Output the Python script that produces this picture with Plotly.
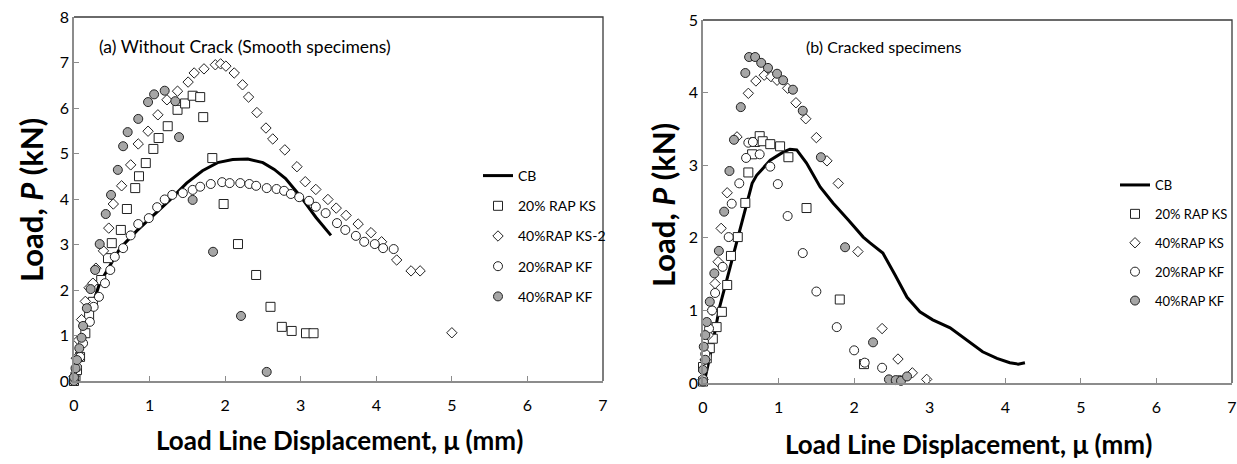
import plotly.graph_objects as go

# ---------------- (a) Without crack ----------------
a_cb_x = [0, 0.05, 0.12, 0.21, 0.34, 0.48, 0.61, 0.83, 1.04, 1.27, 1.49, 1.7, 1.9, 2.1, 2.3, 2.5, 2.65, 2.8, 3.0, 3.2, 3.4]
a_cb_y = [0, 0.4, 1.05, 1.5, 2.15, 2.55, 2.92, 3.3, 3.62, 3.98, 4.35, 4.62, 4.8, 4.87, 4.88, 4.8, 4.65, 4.45, 4.05, 3.6, 3.2]

a_ks20_x = [0.0, 0.02, 0.04, 0.08, 0.15, 0.2, 0.25, 0.36, 0.45, 0.5, 0.62, 0.7, 0.81, 0.86, 0.95, 1.05, 1.12, 1.24, 1.37, 1.47, 1.57, 1.67, 1.71, 1.83, 1.98, 2.17, 2.41, 2.6, 2.75, 2.88, 3.07, 3.17]
a_ks20_y = [0.0, 0.1, 0.24, 0.53, 1.05, 1.45, 1.74, 2.22, 2.7, 3.03, 3.32, 3.78, 4.24, 4.5, 4.79, 5.1, 5.34, 5.6, 5.96, 6.1, 6.27, 6.24, 5.8, 4.9, 3.89, 3.01, 2.33, 1.63, 1.19, 1.1, 1.05, 1.05]

a_ks40_x = [0.0, 0.03, 0.06, 0.1, 0.15, 0.2, 0.25, 0.29, 0.39, 0.46, 0.52, 0.63, 0.75, 0.85, 0.98, 1.11, 1.23, 1.37, 1.51, 1.59, 1.72, 1.87, 1.94, 2.01, 2.12, 2.23, 2.31, 2.42, 2.54, 2.63, 2.79, 2.95, 3.06, 3.2, 3.36, 3.47, 3.6, 3.76, 3.93, 4.07, 4.27, 4.46, 4.58, 5.0]
a_ks40_y = [0.1, 0.5, 0.9, 1.35, 1.75, 2.05, 2.15, 2.48, 2.86, 3.36, 3.89, 4.29, 4.75, 5.21, 5.49, 5.85, 6.18, 6.37, 6.57, 6.77, 6.86, 6.95, 6.97, 6.92, 6.77, 6.51, 6.24, 5.9, 5.56, 5.32, 5.08, 4.71, 4.38, 4.21, 3.99, 3.8, 3.64, 3.45, 3.26, 3.06, 2.66, 2.42, 2.42, 1.06]

a_kf20_x = [0.0, 0.04, 0.08, 0.12, 0.21, 0.26, 0.33, 0.41, 0.48, 0.54, 0.65, 0.75, 0.85, 0.99, 1.1, 1.2, 1.3, 1.44, 1.57, 1.67, 1.81, 1.96, 2.06, 2.2, 2.32, 2.41, 2.55, 2.68, 2.78, 2.87, 2.98, 3.11, 3.2, 3.33, 3.48, 3.59, 3.73, 3.84, 3.98, 4.09, 4.23]
a_kf20_y = [0.0, 0.3, 0.53, 0.83, 1.3, 1.63, 1.85, 2.15, 2.44, 2.73, 2.92, 3.2, 3.45, 3.58, 3.82, 3.99, 4.09, 4.13, 4.2, 4.27, 4.33, 4.37, 4.35, 4.35, 4.33, 4.29, 4.24, 4.22, 4.18, 4.11, 4.04, 3.96, 3.83, 3.69, 3.47, 3.32, 3.19, 3.06, 3.01, 2.92, 2.9]

a_kf40_x = [0.0, 0.0, 0.02, 0.04, 0.07, 0.1, 0.12, 0.17, 0.22, 0.28, 0.34, 0.42, 0.49, 0.58, 0.65, 0.71, 0.85, 0.98, 1.06, 1.2, 1.34, 1.39, 1.57, 1.84, 2.21, 2.55]
a_kf40_y = [0.0, 0.08, 0.28, 0.46, 0.72, 0.95, 1.21, 1.6, 2.02, 2.44, 3.01, 3.67, 4.09, 4.64, 5.16, 5.47, 5.76, 6.13, 6.3, 6.38, 6.15, 5.36, 3.98, 2.84, 1.43, 0.2]

# ---------------- (b) Cracked ----------------
b_cb_x = [0, 0.03, 0.12, 0.22, 0.36, 0.49, 0.58, 0.65, 0.71, 0.89, 1.06, 1.15, 1.24, 1.37, 1.55, 1.72, 1.92, 2.12, 2.21, 2.38, 2.54, 2.7, 2.87, 3.04, 3.27, 3.49, 3.7, 3.89, 4.06, 4.17, 4.26]
b_cb_y = [0, 0.08, 0.5, 1.05, 1.6, 2.11, 2.48, 2.75, 2.86, 3.07, 3.18, 3.22, 3.21, 3.03, 2.7, 2.48, 2.25, 2.01, 1.93, 1.79, 1.49, 1.18, 0.98, 0.87, 0.76, 0.59, 0.43, 0.34, 0.28, 0.26, 0.28]

b_ks20_x = [0.0, 0.0, 0.05, 0.09, 0.13, 0.18, 0.25, 0.32, 0.37, 0.46, 0.56, 0.6, 0.65, 0.69, 0.75, 0.79, 0.89, 1.02, 1.13, 1.37, 1.81, 2.13]
b_ks20_y = [0.02, 0.22, 0.34, 0.48, 0.61, 0.77, 0.98, 1.35, 1.75, 2.01, 2.48, 2.9, 3.15, 3.32, 3.4, 3.33, 3.29, 3.26, 3.11, 2.41, 1.15, 0.26]

b_ks40_x = [0.0, 0.03, 0.07, 0.12, 0.16, 0.2, 0.24, 0.32, 0.45, 0.6, 0.7, 0.81, 0.9, 0.98, 1.12, 1.23, 1.36, 1.5, 1.64, 1.79, 2.05, 2.37, 2.58, 2.77, 2.96]
b_ks40_y = [0.05, 0.32, 0.66, 1.0, 1.37, 1.67, 2.13, 2.62, 3.39, 3.99, 4.16, 4.24, 4.22, 4.17, 4.06, 3.86, 3.64, 3.38, 3.06, 2.75, 1.81, 0.75, 0.33, 0.14, 0.05]

b_kf20_x = [0.0, 0.03, 0.08, 0.12, 0.16, 0.26, 0.34, 0.38, 0.48, 0.57, 0.6, 0.66, 0.75, 0.89, 0.99, 1.12, 1.32, 1.5, 1.77, 2.0, 2.14, 2.37, 2.6]
b_kf20_y = [0.05, 0.4, 0.75, 1.0, 1.24, 1.6, 2.01, 2.47, 2.75, 3.1, 3.31, 3.32, 3.15, 2.98, 2.74, 2.3, 1.79, 1.26, 0.77, 0.45, 0.28, 0.21, 0.04]

b_kf40_x = [0.0, 0.0, 0.01, 0.03, 0.03, 0.05, 0.09, 0.15, 0.21, 0.28, 0.35, 0.41, 0.5, 0.56, 0.61, 0.69, 0.77, 0.86, 0.98, 1.06, 1.19, 1.32, 1.56, 1.88, 2.25, 2.46, 2.55, 2.62, 2.7]
b_kf40_y = [0.02, 0.18, 0.5, 0.32, 0.66, 0.84, 1.12, 1.51, 1.82, 2.36, 2.92, 3.35, 3.8, 4.27, 4.49, 4.49, 4.41, 4.34, 4.26, 4.17, 4.04, 3.75, 3.11, 1.87, 0.56, 0.05, 0.04, 0.03, 0.09]

names_a = ["CB", "20% RAP KS", "40%RAP KS-2", "20%RAP KF", "40%RAP KF"]
names_b = ["CB", "20% RAP KS", "40%RAP KS", "20%RAP KF", "40%RAP KF"]

x_ticks = [0, 1, 2, 3, 4, 5, 6, 7]
ya_ticks = [0, 1, 2, 3, 4, 5, 6, 7, 8]
yb_ticks = [0, 1, 2, 3, 4, 5]

W, H = 1237, 464
FONT = "Lato"
EDGE = "#222222"
GRAYFILL = "#a6a6a6"

fig = go.Figure()

def add_set(xa, ya, legend, names, cb, ks20, ks40, kf20, kf40):
    fig.add_trace(go.Scatter(x=cb[0], y=cb[1], mode="lines", name=names[0],
                             line=dict(color="black", width=3),
                             xaxis=xa, yaxis=ya, legend=legend, legendgroup=legend + "0",
                             cliponaxis=False))
    specs = [
        (ks20, names[1], "square", 9, "white"),
        (ks40, names[2], "diamond", 8, "white"),
        (kf20, names[3], "circle", 9, "white"),
        (kf40, names[4], "circle", 9, GRAYFILL),
    ]
    for i, (d, nm, sym, sz, fill) in enumerate(specs):
        fig.add_trace(go.Scatter(x=d[0], y=d[1], mode="markers", name=nm,
                                 marker=dict(symbol=sym, size=sz, color=fill,
                                             line=dict(color=EDGE, width=1)),
                                 xaxis=xa, yaxis=ya, legend=legend,
                                 legendgroup=legend + str(i + 1), cliponaxis=False))

add_set("x", "y", "legend", names_a, (a_cb_x, a_cb_y), (a_ks20_x, a_ks20_y),
        (a_ks40_x, a_ks40_y), (a_kf20_x, a_kf20_y), (a_kf40_x, a_kf40_y))
add_set("x2", "y2", "legend2", names_b, (b_cb_x, b_cb_y), (b_ks20_x, b_ks20_y),
        (b_ks40_x, b_ks40_y), (b_kf20_x, b_kf20_y), (b_kf40_x, b_kf40_y))

AX = "#8c8c8c"
common_x = dict(range=[0, 7], tickvals=x_ticks, ticks="inside", ticklen=5, tickcolor=AX,
                showline=True, linecolor=AX, linewidth=1.5, showgrid=False, zeroline=False,
                tickfont=dict(family=FONT, size=16, color="black"), ticklabelstandoff=9,
                fixedrange=True, automargin=False)
common_y = dict(ticks="inside", ticklen=5, tickcolor=AX,
                showline=True, linecolor=AX, linewidth=1.5, showgrid=False, zeroline=False,
                tickfont=dict(family=FONT, size=16, color="black"), fixedrange=True,
                automargin=False)

pa = [74 / W, 603 / W]
pya = [(H - 381) / H, (H - 17) / H]
pb = [703 / W, 1232 / W]
pyb = [(H - 383) / H, (H - 20) / H]

fig.update_layout(
    width=W, height=H, autosize=False, margin=dict(l=0, r=0, t=0, b=0, pad=0),
    paper_bgcolor="white", plot_bgcolor="white",
    xaxis=dict(domain=pa, anchor="y", **common_x),
    yaxis=dict(domain=pya, anchor="x", range=[0, 8], tickvals=ya_ticks, **common_y),
    xaxis2=dict(domain=pb, anchor="y2", **common_x),
    yaxis2=dict(domain=pyb, anchor="x2", range=[0, 5], tickvals=yb_ticks, **common_y),
    legend=dict(x=478 / W, y=(H - 160) / H, xanchor="left", yanchor="top",
                bgcolor="rgba(0,0,0,0)", font=dict(family=FONT, size=14, color="black"),
                tracegroupgap=9, itemwidth=30),
    legend2=dict(x=1115 / W, y=(H - 170) / H, xanchor="left", yanchor="top",
                 bgcolor="rgba(0,0,0,0)", font=dict(family=FONT, size=13, color="black"),
                 tracegroupgap=9, itemwidth=30),
    showlegend=True,
)

# frame top/right edges
for xr, yr in (("x domain", "y domain"), ("x2 domain", "y2 domain")):
    fig.add_shape(type="path", path="M 0 1 L 1 1 L 1 0", xref=xr, yref=yr,
                  line=dict(color="#3a3a3a", width=1.3), layer="above")

TITLE_FONT = dict(family=FONT, size=26, color="black")
YT_FONT = dict(family=FONT, size=31, color="black")
ann = [
    dict(text="(a) Without Crack (Smooth specimens)", x=97 / W, y=(H - 46) / H,
         xanchor="left", yanchor="middle", font=dict(family=FONT, size=17.5, color="black")),
    dict(text="(b) Cracked specimens", x=804 / W, y=(H - 46) / H,
         xanchor="left", yanchor="middle", font=dict(family=FONT, size=16, color="black")),
    dict(text="<b>Load Line Displacement, μ (mm)</b>", x=340 / W, y=(H - 440) / H,
         xanchor="center", yanchor="middle", font=TITLE_FONT),
    dict(text="<b>Load Line Displacement, μ (mm)</b>", x=968 / W, y=(H - 444) / H,
         xanchor="center", yanchor="middle", font=TITLE_FONT),
    dict(text="<b>Load, <i>P</i> (kN)</b>", x=31 / W, y=(H - 200) / H, textangle=-90,
         xanchor="center", yanchor="middle", font=YT_FONT),
    dict(text="<b>Load, <i>P</i> (kN)</b>", x=663 / W, y=(H - 205) / H, textangle=-90,
         xanchor="center", yanchor="middle", font=YT_FONT),
]
for a in ann:
    fig.add_annotation(xref="paper", yref="paper", showarrow=False, **a)

fig.write_html("out.html", config={"displayModeBar": False},
               post_script="document.body.style.margin='0px';document.body.style.overflow='hidden';")
